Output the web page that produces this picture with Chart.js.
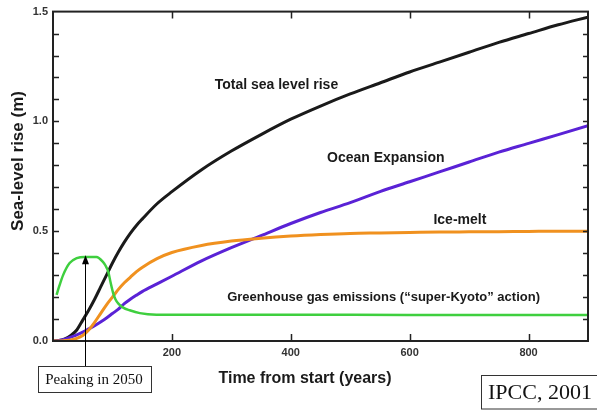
<!DOCTYPE html>
<html>
<head>
<meta charset="utf-8">
<script src="https://cdn.jsdelivr.net/npm/chart.js@4/dist/chart.umd.min.js"></script>
<style>
html,body{margin:0;padding:0;background:#fff;}
#wrap{width:597px;height:412px;}
</style>
</head>
<body>
<div id="wrap"><canvas id="c" width="597" height="412"></canvas></div>
<script>
// ---- data ----
const years = [0,10,20,30,40,50,60,70,80,90,100,110,120,130,140,150,175,200,250,300,350,400,450,500,550,600,650,700,750,800,850,900];
const totalRise = [0,0.002,0.01,0.025,0.05,0.095,0.14,0.19,0.245,0.3,0.355,0.405,0.45,0.49,0.525,0.555,0.625,0.68,0.78,0.865,0.94,1.01,1.07,1.125,1.175,1.225,1.27,1.315,1.36,1.40,1.44,1.475];
const oceanExpansion = [0,0.002,0.008,0.018,0.028,0.04,0.055,0.07,0.087,0.105,0.125,0.145,0.17,0.19,0.208,0.225,0.26,0.295,0.365,0.425,0.48,0.535,0.585,0.63,0.68,0.725,0.77,0.815,0.86,0.90,0.94,0.98];
const iceMelt = [0,0,0.002,0.005,0.012,0.025,0.05,0.085,0.125,0.165,0.2,0.235,0.265,0.29,0.315,0.335,0.375,0.403,0.435,0.455,0.468,0.478,0.485,0.49,0.492,0.494,0.496,0.497,0.498,0.499,0.5,0.5];
const ghgYears = [6,10,17,28,40,53,73,84,88,93,97,101,105,110,118,129,146,174,300,500,700,900];
const ghgEmissions = [0.21,0.245,0.30,0.355,0.377,0.383,0.382,0.36,0.345,0.315,0.265,0.22,0.19,0.17,0.152,0.14,0.127,0.12,0.119,0.119,0.118,0.118];
const xTickValues = [200,400,600,800];
const yTickValues = [0.1,0.2,0.3,0.4,0.5,0.6,0.7,0.8,0.9,1.0,1.1,1.2,1.3,1.4];
const labels = {
  total: 'Total sea level rise',
  ocean: 'Ocean Expansion',
  ice: 'Ice-melt',
  ghg: 'Greenhouse gas emissions (\u201csuper-Kyoto\u201d action)',
  peak: 'Peaking in 2050',
  source: 'IPCC, 2001',
  xTitle: 'Time from start (years)',
  yTitle: 'Sea-level rise (m)'
};
const peakYear = 53;

const pts = (xs, ys) => xs.map((x, i) => ({x: x, y: ys[i]}));

const decor = {
  id: 'decor',
  afterDraw(chart) {
    const ctx = chart.ctx;
    const a = chart.chartArea;
    const xs = chart.scales.x, ys = chart.scales.y;
    ctx.save();
    // frame
    ctx.strokeStyle = '#222';
    ctx.lineWidth = 2;
    ctx.strokeRect(a.left, a.top, a.right - a.left, a.bottom - a.top);
    // ticks
    ctx.lineWidth = 1.5;
    ctx.beginPath();
    yTickValues.forEach(v => {
      const y = Math.round(ys.getPixelForValue(v)) + 0.5;
      ctx.moveTo(a.left, y); ctx.lineTo(a.left + 6, y);
      ctx.moveTo(a.right, y); ctx.lineTo(a.right - 5, y);
    });
    xTickValues.forEach(v => {
      const x = Math.round(xs.getPixelForValue(v)) + 0.5;
      ctx.moveTo(x, a.bottom); ctx.lineTo(x, a.bottom - 7);
      ctx.moveTo(x, a.top); ctx.lineTo(x, a.top + 7);
    });
    ctx.stroke();
    // annotations
    ctx.fillStyle = '#1a1a1a';
    ctx.font = 'bold 14px "Liberation Sans", Arial, sans-serif';
    ctx.textBaseline = 'middle';
    ctx.textAlign = 'left';
    ctx.fillText(labels.total, xs.getPixelForValue(272), ys.getPixelForValue(1.164));
    ctx.fillText(labels.ocean, xs.getPixelForValue(461), ys.getPixelForValue(0.832));
    ctx.fillText(labels.ice, xs.getPixelForValue(640), ys.getPixelForValue(0.55));
    ctx.font = 'bold 13px "Liberation Sans", Arial, sans-serif';
    ctx.fillText(labels.ghg, xs.getPixelForValue(293), ys.getPixelForValue(0.2));
    // axis titles
    ctx.font = 'bold 16px "Liberation Sans", Arial, sans-serif';
    ctx.textAlign = 'center';
    ctx.fillText(labels.xTitle, 305, 379);
    ctx.save();
    ctx.translate(18, 161);
    ctx.rotate(-Math.PI / 2);
    ctx.font = 'bold 17px "Liberation Sans", Arial, sans-serif';
    ctx.fillText(labels.yTitle, 0, 0);
    ctx.restore();
    // peak arrow
    const ax = Math.round(xs.getPixelForValue(peakYear)) + 0.5;
    const tipY = ys.getPixelForValue(0.39);
    ctx.strokeStyle = '#000';
    ctx.lineWidth = 1;
    ctx.beginPath();
    ctx.moveTo(ax, 366); ctx.lineTo(ax, tipY + 6);
    ctx.stroke();
    ctx.fillStyle = '#000';
    ctx.beginPath();
    ctx.moveTo(ax, tipY); ctx.lineTo(ax - 3.5, tipY + 9); ctx.lineTo(ax + 3.5, tipY + 9);
    ctx.closePath(); ctx.fill();
    // peak box
    ctx.strokeStyle = '#333';
    ctx.strokeRect(38.5, 366.5, 113, 26);
    ctx.fillStyle = '#111';
    ctx.font = '15px "Liberation Serif", "Times New Roman", serif';
    ctx.textAlign = 'center';
    ctx.fillText(labels.peak, 94, 380);
    // source box
    ctx.strokeRect(481.5, 375.5, 125, 33.5);
    ctx.font = '22px "Liberation Serif", "Times New Roman", serif';
    ctx.textAlign = 'left';
    ctx.fillText(labels.source, 488, 393);
    ctx.restore();
  }
};

new Chart(document.getElementById('c'), {
  type: 'line',
  data: {
    datasets: [
      {label: 'GHG', data: pts(ghgYears, ghgEmissions), borderColor: '#3fcf3f', borderWidth: 2.5},
      {label: 'Ice', data: pts(years, iceMelt), borderColor: '#f0911f', borderWidth: 3},
      {label: 'Ocean', data: pts(years, oceanExpansion), borderColor: '#5a22d6', borderWidth: 3},
      {label: 'Total', data: pts(years, totalRise), borderColor: '#1a1a1a', borderWidth: 3}
    ]
  },
  options: {
    responsive: false,
    animation: false,
    events: [],
    elements: {point: {radius: 0}, line: {cubicInterpolationMode: 'monotone', fill: false}},
    layout: {padding: {top: 11, right: 9, left: 0, bottom: 0}, autoPadding: false},
    plugins: {legend: {display: false}, tooltip: {enabled: false}},
    scales: {
      x: {
        type: 'linear', min: 0, max: 900,
        grid: {display: false, drawTicks: false},
        border: {display: false},
        ticks: {
          stepSize: 200, padding: 5, color: '#333', maxRotation: 0, autoSkip: false,
          font: {family: '"Liberation Sans", Arial, sans-serif', size: 11, weight: 'bold'},
          callback: v => (v > 0 && v % 200 === 0) ? String(v) : ''
        },
        afterFit: s => { s.height = 71; }
      },
      y: {
        type: 'linear', min: 0, max: 1.5,
        grid: {display: false, drawTicks: false},
        border: {display: false},
        ticks: {
          stepSize: 0.5, padding: 5, color: '#333', autoSkip: false,
          font: {family: '"Liberation Sans", Arial, sans-serif', size: 11, weight: 'bold'},
          callback: v => v.toFixed(1)
        },
        afterFit: s => { s.width = 53; }
      }
    }
  },
  plugins: [decor]
});
</script>
</body>
</html>
